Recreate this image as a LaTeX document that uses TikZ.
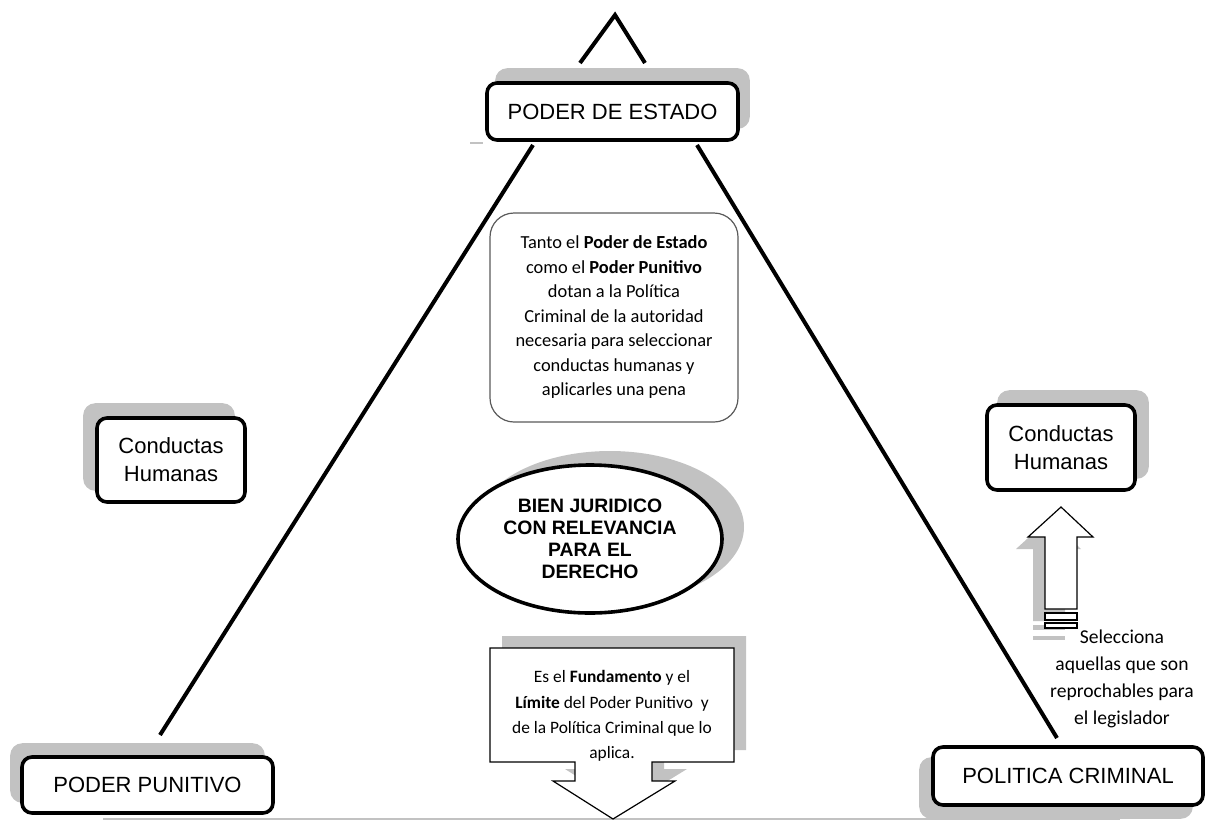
\documentclass[tikz,border=0pt]{standalone}
\usepackage{fontspec}
\setmainfont{Liberation Sans}
\newfontfamily\carl{Carlito}
\usetikzlibrary{shapes.geometric,backgrounds}
\definecolor{shd}{RGB}{194,194,194}
\definecolor{thinline}{RGB}{90,90,90}
\begin{document}
\begin{tikzpicture}[x=0.5pt,y=-0.5pt,
  hbox/.style={draw=black, line width=1.8pt, rounded corners=5pt, fill=white,
    align=center, inner sep=0pt, font=\fontsize{11}{14}\selectfont},
  sfill/.style={fill=shd, rounded corners=6pt},
  tri/.style={line width=2pt, line cap=butt},
  smalltext/.style={align=center, inner sep=0pt},
  thinshape/.style={draw=black, line width=0.6pt, fill=white, line join=miter}
]
\useasboundingbox (0,0) rectangle (1205,820);

% thin gray lines
\coordinate (gl1) at (103,819); \coordinate (gl2) at (1120,819);
\draw[shd, line width=0.6pt] (gl1) -- (gl2);
\coordinate (gs1) at (470,143); \coordinate (gs2) at (483,143);
\draw[shd, line width=0.6pt] (gs1) -- (gs2);

% caret at top
\coordinate (apex) at (615,15);
\coordinate (capL) at (580,63);
\coordinate (capR) at (645,63);
\draw[tri, line join=miter] (capL) -- (apex) -- (capR);

% triangle sides
\coordinate (tl) at (533,145); \coordinate (bl) at (160,735);
\coordinate (tr) at (697,145); \coordinate (br) at (1057,738);
\draw[tri] (tl) -- (bl);
\draw[tri] (tr) -- (br);

% top box
\node[hbox, minimum width=125.5pt, minimum height=28.5pt]
  (estado) at (612.5,111.5) {PODER DE ESTADO};

% central text box
\node[draw=thinline, line width=0.6pt, rounded corners=12pt, fill=white,
  minimum width=124pt, minimum height=104.5pt] (tbox) at (614,317.5) {};
\node[smalltext, font=\carl\fontsize{9.2}{12.25}\selectfont] (ttext) at (tbox.center)
  {Tanto el \textbf{Poder de Estado}\\ como el \textbf{Poder Punitivo}\\ dotan a la Política\\
   Criminal de la autoridad\\ necesaria para seleccionar\\ conductas humanas y\\ aplicarles una pena};

% conductas boxes
\node[hbox, minimum width=74pt, minimum height=42pt]
  (condL) at (171,460) {Conductas\\Humanas};
\node[hbox, minimum width=74pt, minimum height=42.5pt]
  (condR) at (1061,447.5) {Conductas\\Humanas};

% ellipse
\node[ellipse, draw=black, line width=1.8pt, fill=white,
  minimum width=132pt, minimum height=74pt, inner sep=0pt, align=center,
  font=\bfseries\fontsize{9.7}{11}\selectfont] (bien) at (590,539)
  {BIEN JURIDICO\\CON RELEVANCIA\\PARA EL\\DERECHO};

% callout with down arrow
\fill[shd, shift={(12,-12)}] (490,648) -- (734,648) -- (734,762) -- (652,762) -- (652,781)
  -- (675,781) -- (613,819) -- (553,781) -- (575,781) -- (575,762) -- (490,762) -- cycle;
\draw[thinshape] (490,648) -- (734,648) -- (734,762) -- (652,762) -- (652,781)
  -- (675,781) -- (613,819) -- (553,781) -- (575,781) -- (575,762) -- (490,762) -- cycle;
\node[smalltext, font=\carl\fontsize{8.7}{12.7}\selectfont] (ctext) at (612,716)
  {Es el \textbf{Fundamento} y el\\ \textbf{Límite} del Poder Punitivo\ \ y\\ de la Política Criminal que lo\\ aplica.};

% up arrow with shadow
\begin{scope}[shift={(-12,12)}]
  \fill[shd] (1061,507) -- (1093,537) -- (1077,537) -- (1077,609) -- (1045,609) -- (1045,537) -- (1028,537) -- cycle;
  \fill[shd] (1045,613) rectangle (1077,618);
  \fill[shd] (1045,624) rectangle (1077,628);
\end{scope}
\draw[thinshape] (1061,507) -- (1093,537) -- (1077,537) -- (1077,609) -- (1045,609) -- (1045,537) -- (1028,537) -- cycle;
\draw[thinshape] (1045,613) rectangle (1077,620);
\draw[thinshape] (1045,623) rectangle (1077,628);
\node[smalltext, font=\carl\fontsize{9.8}{13.5}\selectfont] (sel) at (1122,679)
  {Selecciona\\ aquellas que son\\ reprochables para\\ el legislador};

% bottom boxes
\node[hbox, minimum width=125.5pt, minimum height=28pt]
  (punitivo) at (147.5,785) {PODER PUNITIVO};
\node[hbox, minimum width=135pt, minimum height=29pt]
  (politica) at (1068,776) {POLITICA CRIMINAL};

% shadows behind the boxes
\begin{pgfonlayer}{background}
  \fill[sfill] ([shift={(10,-13)}]estado.south west) rectangle ([shift={(10,-13)}]estado.north east);
  \fill[sfill] ([shift={(-12,-13)}]condL.south west) rectangle ([shift={(-12,-13)}]condL.north east);
  \fill[sfill] ([shift={(12,-13)}]condR.south west) rectangle ([shift={(12,-13)}]condR.north east);
  \fill[sfill] ([shift={(-10,-12)}]punitivo.south west) rectangle ([shift={(-10,-12)}]punitivo.north east);
  \fill[sfill] ([shift={(-12,12)}]politica.south west) rectangle ([shift={(-12,12)}]politica.north east);
  \fill[shd] ([shift={(20,-12)}]bien.center) ellipse [x radius=134, y radius=76];
\end{pgfonlayer}
\end{tikzpicture}
\end{document}
